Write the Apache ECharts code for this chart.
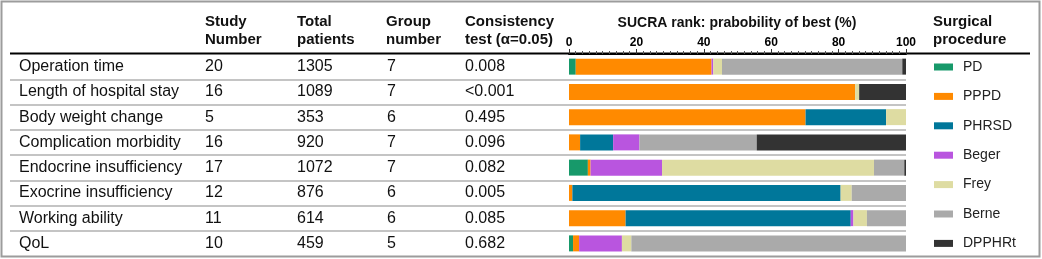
<!DOCTYPE html>
<html>
<head>
<meta charset="utf-8">
<script src="https://cdn.jsdelivr.net/npm/echarts@6/dist/echarts.min.js"></script>
<style>
  html, body { margin: 0; padding: 0; background: #fff; }
  #chart { width: 1042px; height: 259px; }
</style>
</head>
<body>
<div id="chart"></div>
<script>
// rows of the table (top to bottom)
const outcomes = ['Operation time', 'Length of hospital stay', 'Body weight change', 'Complication morbidity',
  'Endocrine insufficiency', 'Exocrine insufficiency', 'Working ability', 'QoL'];
const studyNumber = ['20', '16', '5', '16', '17', '12', '11', '10'];
const totalPatients = ['1305', '1089', '353', '920', '1072', '876', '614', '459'];
const groupNumber = ['7', '7', '6', '7', '7', '6', '6', '5'];
const consistency = ['0.008', '<0.001', '0.495', '0.096', '0.082', '0.005', '0.085', '0.682'];

// SUCRA probability of best (%), one array per procedure, same order as outcomes
const procedures = ['PD', 'PPPD', 'PHRSD', 'Beger', 'Frey', 'Berne', 'DPPHRt'];
const pd = [2.0, 0, 0, 0, 5.6, 0, 0, 1.2];
const pppd = [40.3, 84.9, 70.2, 3.3, 0.8, 1.0, 16.8, 1.8];
const phrsd = [0, 0, 23.9, 9.8, 0, 79.6, 66.8, 0];
const beger = [0.5, 0, 0, 7.8, 21.2, 0, 0.8, 12.7];
const frey = [2.6, 1.2, 5.9, 0, 62.9, 3.3, 4.0, 2.8];
const berne = [53.5, 0, 0, 34.8, 9.0, 16.1, 11.6, 81.5];
const dpphrt = [1.1, 13.9, 0, 44.3, 0.5, 0, 0, 0];

const colors = ['#17996a', '#ff8a00', '#00779a', '#b955df', '#dedca2', '#aaaaaa', '#333333'];
const seriesData = [pd, pppd, phrsd, beger, frey, berne, dpphrt];

const chart = echarts.init(document.getElementById('chart'));
const FONT = '"Liberation Sans", Arial, sans-serif';
const BAR_LEFT = 569;

function columnAxis(values, x) {
  return {
    type: 'category',
    gridIndex: 0,
    position: 'left',
    data: outcomes,
    inverse: true,
    axisLine: { show: false },
    axisTick: { show: false },
    splitLine: { show: false },
    axisLabel: {
      align: 'left',
      margin: BAR_LEFT - x,
      color: '#111',
      fontFamily: FONT,
      fontSize: 16,
      formatter: (v, i) => values[i]
    }
  };
}

const groupAxis = columnAxis(groupNumber, 387);
groupAxis.axisLabel.padding = [6, 0, 0, 0];

const option = {
  animation: false,
  textStyle: { fontFamily: FONT },
  grid: [
    { left: BAR_LEFT, right: 136, top: 54, height: 202, containLabel: false, outerBoundsMode: 'none' },
    { left: 10, right: 136, top: 54, height: 202, containLabel: false, outerBoundsMode: 'none' }
  ],
  xAxis: [
    {
      type: 'value',
      gridIndex: 0,
      position: 'top',
      min: 0,
      max: 100,
      interval: 20,
      axisLine: { show: true, lineStyle: { color: '#000', width: 2 } },
      axisTick: { show: true, length: 5, lineStyle: { color: '#333', width: 1 } },
      minorTick: { show: true, splitNumber: 10, length: 3, lineStyle: { color: '#555', width: 1 } },
      splitLine: { show: false },
      axisLabel: {
        margin: 5,
        color: '#000',
        fontWeight: 'bold',
        fontSize: 12,
        fontFamily: FONT
      }
    },
    { type: 'value', gridIndex: 1, show: false }
  ],
  yAxis: [
    columnAxis(outcomes, 19),
    columnAxis(studyNumber, 205),
    columnAxis(totalPatients, 297),
    groupAxis,
    columnAxis(consistency, 465),
    {
      type: 'category',
      gridIndex: 1,
      data: outcomes,
      inverse: true,
      axisLine: { show: false },
      axisTick: { show: false },
      axisLabel: { show: false },
      splitLine: { show: true, showMinLine: false, showMaxLine: false, lineStyle: { color: '#b0b0b0', width: 1.5 } }
    }
  ],
  legend: {
    orient: 'vertical',
    left: 934,
    top: 60,
    height: 198,
    padding: 0,
    itemWidth: 19,
    itemHeight: 7,
    itemGap: 15.4,
    icon: 'rect',
    selectedMode: false,
    data: procedures,
    textStyle: { color: '#222', fontSize: 14, fontFamily: FONT, padding: [0, 0, 0, 5] }
  },
  series: procedures.map((name, k) => ({
    name: name,
    type: 'bar',
    stack: 'sucra',
    xAxisIndex: 0,
    yAxisIndex: 0,
    barWidth: 16,
    itemStyle: { color: colors[k] },
    emphasis: { disabled: true },
    data: seriesData[k]
  })),
  graphic: [
    { type: 'rect', silent: true, shape: { x: 1.5, y: 1.5, width: 1038, height: 255 },
      style: { fill: 'none', stroke: '#9c9c9c', lineWidth: 2 } },
    { type: 'line', silent: true, shape: { x1: 10, y1: 53.5, x2: 1030, y2: 53.5 },
      style: { stroke: '#000', lineWidth: 2 } },
    { type: 'text', left: 205, top: 13, style: { text: 'Study\nNumber', font: 'bold 15px ' + FONT, lineHeight: 18, fill: '#111' } },
    { type: 'text', left: 297, top: 13, style: { text: 'Total\npatients', font: 'bold 15px ' + FONT, lineHeight: 18, fill: '#111' } },
    { type: 'text', left: 386, top: 13, style: { text: 'Group\nnumber', font: 'bold 15px ' + FONT, lineHeight: 18, fill: '#111' } },
    { type: 'text', left: 465, top: 13, style: { text: 'Consistency\ntest (α=0.05)', font: 'bold 15px ' + FONT, lineHeight: 18, fill: '#111' } },
    { type: 'text', left: 933, top: 13, style: { text: 'Surgical\nprocedure', font: 'bold 15px ' + FONT, lineHeight: 18, fill: '#111' } },
    { type: 'text', x: 737, y: 23, style: { text: 'SUCRA rank: prabobility of best (%)', font: 'bold 14px ' + FONT,
      fill: '#111', align: 'center', verticalAlign: 'middle' } }
  ]
};

chart.setOption(option);
</script>
</body>
</html>
